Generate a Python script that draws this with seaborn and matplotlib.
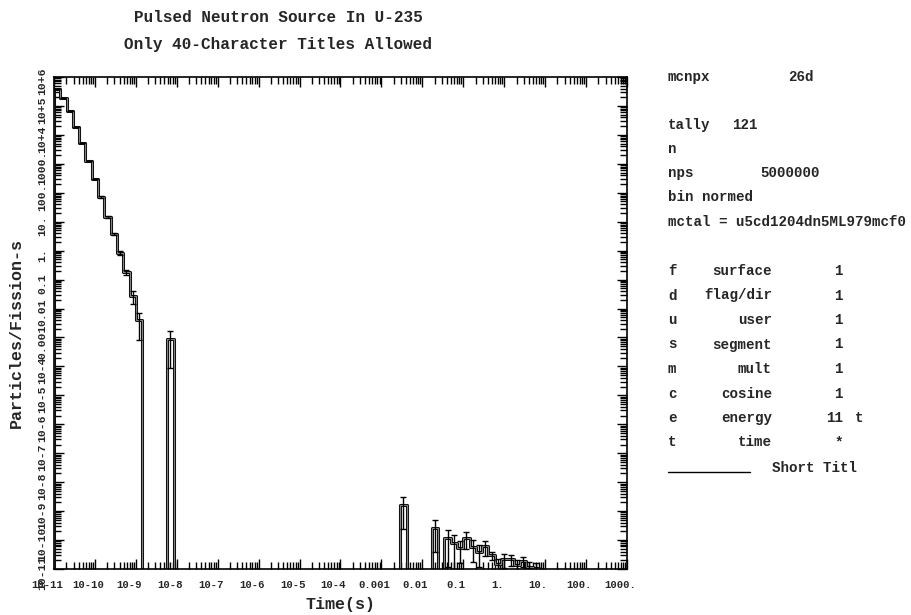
import numpy as np
import pandas as pd
import matplotlib
matplotlib.use("Agg")
import matplotlib.pyplot as plt
import matplotlib.ticker as mticker
import matplotlib.transforms as mtransforms
import seaborn as sns

# ---- tally 121: bin-normed neutron current vs time (s) ----
# prompt region, contiguous bins
early_edges = [1.00e-11, 1.43e-11, 2.03e-11, 2.90e-11, 4.13e-11, 5.88e-11, 8.38e-11,
               1.19e-10, 1.70e-10, 2.43e-10, 3.46e-10, 4.93e-10, 7.03e-10, 1.00e-9, 1.43e-9]
early_vals = [3.9e5, 1.9e5, 6.7e4, 1.9e4, 5.2e3, 1.26e3, 300.0, 71.0, 14.5, 3.8,
              0.83, 0.18, 0.027, 0.004]
early_rel = [0.002, 0.003, 0.005, 0.008, 0.01, 0.02, 0.03, 0.05, 0.07, 0.1,
             0.15, 0.2, 0.45, 0.8]

# isolated non-zero bins
single_lo = [5.88e-9, 2.90e-3, 1.70e-2]
single_hi = [8.38e-9, 4.12e-3, 2.43e-2]
single_vals = [8.9e-4, 1.6e-9, 2.6e-10]
single_rel = [0.9, 0.85, 0.85]

# delayed region, contiguous bins
late_edges = [0.0345, 0.0492, 0.0702, 0.100, 0.1425, 0.203, 0.290, 0.413, 0.588,
              0.838, 1.194, 1.70, 2.43, 3.45, 4.92, 7.02]
late_vals = [1.2e-10, 7.9e-11, 5.3e-11, 1.2e-10, 5.8e-11, 3.9e-11, 6.2e-11, 3.0e-11,
             1.5e-11, 2.2e-11, 2.2e-11, 1.4e-11, 1.9e-11, 1.15e-11, 1.08e-11]
late_rel = [0.9, 0.9, 0.7, 0.6, 0.7, 0.7, 0.55, 0.3, 0.5, 0.5, 0.4, 0.5, 0.4, 0.5, 0.5]

x_ticks = [1e-11, 1e-10, 1e-9, 1e-8, 1e-7, 1e-6, 1e-5, 1e-4, 1e-3, 1e-2, 1e-1, 1.0,
           10.0, 100.0, 1000.0]
x_labels = ["10-11", "10-10", "10-9", "10-8", "10-7", "10-6", "10-5", "10-4",
            "0.001", "0.01", "0.1", "1.", "10.", "100.", "1000."]
y_ticks = [1e-11, 1e-10, 1e-9, 1e-8, 1e-7, 1e-6, 1e-5, 1e-4, 1e-3, 1e-2, 1e-1, 1.0,
           10.0, 100.0, 1000.0, 1e4, 1e5, 1e6]
y_labels = ["10-11", "10-10", "10-9", "10-8", "10-7", "10-6", "10-5", "10-4",
            "0.001", "0.01", "0.1", "1.", "10.", "100.", "1000.", "10+4", "10+5", "10+6"]

FLOOR = 1e-14  # empty bins sit on the bottom edge

# build the histogram outline as one polyline
tx, ty = [], []
def add_run(edges, vals):
    tx.append(edges[0]); ty.append(FLOOR)
    for i, v in enumerate(vals):
        tx.extend([edges[i], edges[i + 1]])
        ty.extend([v, v])
    tx.append(edges[-1]); ty.append(FLOOR)

add_run(early_edges, early_vals)
for lo, hi, v in zip(single_lo, single_hi, single_vals):
    add_run([lo, hi], [v])
add_run(late_edges, late_vals)
tx.append(1e3); ty.append(FLOOR)
hist = pd.DataFrame({"t": tx, "y": ty})

# error bars at bin centres
def centres(edges):
    return [np.sqrt(edges[i] * edges[i + 1]) for i in range(len(edges) - 1)]
err_x = centres(early_edges) + [np.sqrt(a * b) for a, b in zip(single_lo, single_hi)] + centres(late_edges)
err_v = np.array(early_vals + single_vals + late_vals)
err_r = np.array(early_rel + single_rel + late_rel)
upper = err_v * err_r
lower = np.minimum(err_v * err_r, err_v * 0.999)

sns.set_theme(style="white")
plt.rcParams["font.family"] = ["Liberation Mono", "DejaVu Sans Mono"]
plt.rcParams["font.weight"] = "bold"

W, H = 912, 615
fig = plt.figure(figsize=(W / 100, H / 100), dpi=100)
ax = fig.add_axes([54 / W, 1 - 569 / H, (627 - 54) / W, (569 - 77) / H])
ax.set_xscale("log")
ax.set_yscale("log")

# histogram outline: dark pen with a lighter core
sns.lineplot(data=hist, x="t", y="y", sort=False, estimator=None, color="#111111",
             linewidth=2.2, ax=ax)
sns.lineplot(data=hist, x="t", y="y", sort=False, estimator=None, color="#9a9a9a",
             linewidth=0.6, ax=ax)
ax.errorbar(err_x, err_v, yerr=[lower, upper], fmt="none", ecolor="black",
            elinewidth=1.0, capsize=2, capthick=1.0)

ax.set_xlim(1e-11, 1e3)
ax.set_ylim(1e-11, 1e6)

ax.xaxis.set_major_locator(mticker.FixedLocator(x_ticks))
ax.xaxis.set_major_formatter(mticker.FixedFormatter(x_labels))
ax.yaxis.set_major_locator(mticker.FixedLocator(y_ticks))
ax.yaxis.set_major_formatter(mticker.FixedFormatter(y_labels))
ax.xaxis.set_minor_locator(mticker.LogLocator(base=10, subs=np.arange(2, 10), numticks=40))
ax.yaxis.set_minor_locator(mticker.LogLocator(base=10, subs=np.arange(2, 10), numticks=40))
ax.xaxis.set_minor_formatter(mticker.NullFormatter())
ax.yaxis.set_minor_formatter(mticker.NullFormatter())

ax.tick_params(which="both", direction="in", top=True, right=True, bottom=True,
               left=True, color="black", width=1.0)
ax.tick_params(which="major", length=7)
ax.tick_params(which="minor", length=5)
ax.tick_params(axis="x", which="major", labelsize=7.7, pad=8)
ax.tick_params(axis="y", which="major", labelsize=8.2, pad=5)
for lab in ax.get_yticklabels():
    lab.set_rotation(90)
    lab.set_va("center")
    lab.set_fontweight("bold")
for lab in ax.get_xticklabels():
    lab.set_fontweight("bold")

shift_x = mtransforms.ScaledTranslation(-7 / 100, 0, fig.dpi_scale_trans)
for lab in ax.get_xticklabels():
    lab.set_transform(lab.get_transform() + shift_x)
shift_y = mtransforms.ScaledTranslation(0, -4 / 100, fig.dpi_scale_trans)
for lab in ax.get_yticklabels():
    lab.set_transform(lab.get_transform() + shift_y)

for s in ax.spines.values():
    s.set_color("black")
    s.set_linewidth(1.2)

ax.set_xlabel("Time(s)", fontsize=12, fontweight="bold")
ax.xaxis.set_label_coords(0.5, -0.056)
ax.set_ylabel("Particles/Fission-s", fontsize=12, fontweight="bold")
ax.yaxis.set_label_coords(-0.052, 0.48)

def px(x, y):
    return x / W, 1 - y / H

fig.text(*px(278, 18), "Pulsed Neutron Source In U-235", ha="center", va="center",
         fontsize=11.5, fontweight="bold")
fig.text(*px(278, 45), "Only 40-Character Titles Allowed", ha="center", va="center",
         fontsize=11.5, fontweight="bold")

side = dict(fontsize=10.2, fontweight="bold", va="center")
fig.text(*px(668, 77), "mcnpx", ha="left", **side)
fig.text(*px(788, 77), "26d", ha="left", **side)
fig.text(*px(668, 125), "tally", ha="left", **side)
fig.text(*px(732, 125), "121", ha="left", **side)
fig.text(*px(668, 149), "n", ha="left", **side)
fig.text(*px(668, 173), "nps", ha="left", **side)
fig.text(*px(760, 173), "5000000", ha="left", **side)
fig.text(*px(668, 197), "bin normed", ha="left", **side)
fig.text(*px(668, 222), "mctal = u5cd1204dn5ML979mcf0", ha="left", **side)

rows = [("f", "surface", "1", ""), ("d", "flag/dir", "1", ""), ("u", "user", "1", ""),
        ("s", "segment", "1", ""), ("m", "mult", "1", ""), ("c", "cosine", "1", ""),
        ("e", "energy", "11", "t"), ("t", "time", "*", "")]
for i, (a, b, c, d) in enumerate(rows):
    yy = 271 + i * 24.5
    fig.text(*px(668, yy), a, ha="left", **side)
    fig.text(*px(772, yy), b, ha="right", **side)
    fig.text(*px(843, yy), c, ha="right", **side)
    if d:
        fig.text(*px(855, yy), d, ha="left", **side)

yy = 468
fig.add_artist(plt.Line2D([668 / W, 750 / W], [1 - (yy + 4) / H, 1 - (yy + 4) / H],
                          color="black", linewidth=1.0))
fig.text(*px(772, yy), "Short Titl", ha="left", **side)

fig.savefig("out.png", dpi=100)
